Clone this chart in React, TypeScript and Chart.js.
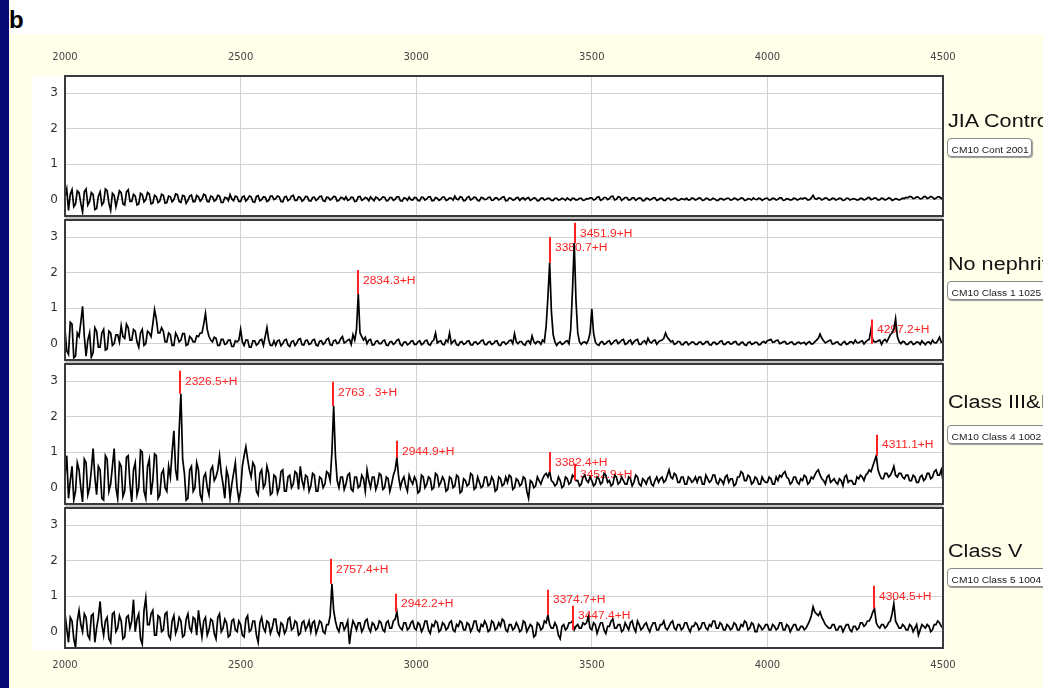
import React, { useEffect, useRef } from "react";
import { Chart, registerables } from "chart.js";
Chart.register(...registerables);

// ---------- data ----------
const MASS_START = 2000; // Da, first sample of every spectrum
const MASS_STEP = 5; // Da between samples
const X_TICKS = [2000, 2500, 3000, 3500, 4000, 4500];
const Y_TICKS = [0, 1, 2, 3];
const Y_MIN = -0.46;
const Y_MAX = 3.48;

const PANEL_NAMES = ["JIA Control", "No nephritis", "Class III&IV", "Class V"];
const PANEL_IDS = ["CM10 Cont 2001", "CM10 Class 1 1025", "CM10 Class 4 1002", "CM10 Class 5 1004"];

const JIA_CONTROL = [
  0.08, 0.3, -0.3, 0.15, 0.28, -0.2, -0.12, 0.25, 0.2, -0.1, -0.35, 0.22, 0.3, -0.15, -0.05, 0.2, 0.15, -0.28, -0.25, 0.1,
  0.22, -0.15, -0.08, 0.3, 0.25, -0.1, -0.3, 0.18, 0.12, -0.2, 0.02, 0.25, 0.2, -0.12, -0.15, 0.22, 0.28, -0.05, -0.05, 0.15,
  0.1, -0.15, -0.12, 0.18, 0.14, -0.06, 0.0, 0.2, 0.16, -0.12, -0.1, 0.12, 0.08, -0.08, -0.04, 0.15, 0.12, -0.1, -0.08, 0.1,
  0.08, -0.06, 0.0, 0.16, 0.14, -0.05, -0.08, 0.12, 0.1, -0.1, -0.02, 0.1, 0.13, -0.06, -0.05, 0.12, 0.08, -0.04, 0.02, 0.15,
  0.12, -0.05, -0.06, 0.1, 0.08, -0.04, 0.0, 0.12, 0.1, -0.08, -0.08, 0.06, 0.05, -0.03, 0.14, 0.02, -0.03, 0.1, 0.08, -0.05,
  -0.05, 0.08, 0.1, -0.04, 0.02, 0.1, 0.08, -0.06, -0.07, 0.09, 0.11, -0.03, 0.0, 0.08, 0.07, -0.05, -0.02, 0.1, 0.1, 0.0,
  0.03, 0.1, 0.08, -0.05, -0.06, 0.07, 0.09, -0.03, 0.01, 0.1, 0.12, -0.02, -0.02, 0.08, 0.06, -0.04, 0.0, 0.09, 0.08, -0.03,
  -0.04, 0.06, 0.07, -0.02, 0.02, 0.09, 0.1, -0.03, -0.05, 0.07, 0.06, -0.01, 0.03, 0.09, 0.08, -0.04, -0.02, 0.06, 0.05, 0.0,
  0.08, -0.02, 0.0, 0.07, 0.06, -0.05, -0.04, 0.08, 0.09, -0.02, 0.01, 0.06, 0.04, -0.03, 0.08, 0.02, -0.03, 0.07, 0.05, -0.02,
  0.02, 0.08, 0.07, -0.03, -0.02, 0.06, 0.06, -0.02, 0.01, 0.08, 0.08, -0.03, -0.04, 0.05, 0.04, -0.02, 0.07, 0.0, -0.01, 0.06,
  0.05, -0.02, -0.03, 0.07, 0.06, -0.01, 0.02, 0.08, 0.08, -0.03, -0.02, 0.06, 0.04, -0.02, 0.01, 0.07, 0.07, -0.02, 0.0, 0.05,
  0.04, -0.01, 0.1, 0.02, 0.0, 0.08, 0.07, -0.03, -0.02, 0.06, 0.09, -0.01, 0.02, 0.07, 0.06, -0.02, -0.03, 0.06, 0.05, 0.0,
  0.01, 0.06, 0.07, -0.02, -0.01, 0.05, 0.05, -0.01, 0.02, 0.07, 0.08, -0.03, -0.02, 0.05, 0.04, -0.01, 0.0, 0.05, 0.06, -0.02,
  0.03, 0.05, -0.01, 0.04, 0.06, -0.02, 0.01, 0.05, 0.04, -0.03, -0.02, 0.04, 0.05, -0.01, 0.01, 0.04, 0.03, -0.02, -0.02, 0.04,
  0.04, -0.01, 0.0, 0.04, 0.02, -0.02, 0.05, 0.01, -0.02, 0.04, 0.03, -0.01, 0.0, 0.04, 0.04, -0.02, -0.01, 0.03, 0.02, 0.05,
  0.05, -0.01, 0.01, 0.07, 0.08, -0.02, 0.0, 0.06, 0.06, 0.0, 0.03, 0.09, 0.1, -0.01, 0.01, 0.08, 0.07, -0.02, 0.02, 0.06,
  0.06, -0.01, 0.0, 0.05, 0.05, -0.02, 0.02, 0.05, 0.04, -0.03, -0.02, 0.04, 0.03, -0.01, 0.01, 0.05, 0.05, -0.02, 0.0, 0.04,
  0.03, -0.02, -0.02, 0.04, 0.04, -0.01, 0.01, 0.04, 0.03, -0.02, -0.01, 0.03, 0.02, 0.0, 0.04, -0.01, 0.0, 0.05, 0.03, -0.01,
  0.01, 0.05, 0.04, -0.02, -0.01, 0.04, 0.03, -0.01, 0.0, 0.04, 0.02, -0.02, -0.02, 0.03, 0.03, -0.01, 0.01, 0.04, 0.04, -0.01,
  0.0, 0.04, 0.03, -0.01, 0.01, 0.05, 0.04, -0.02, -0.01, 0.03, 0.02, -0.01, 0.05, 0.01, 0.0, 0.04, 0.03, -0.02, 0.01, 0.04,
  0.04, -0.01, 0.0, 0.04, 0.03, -0.01, 0.01, 0.05, 0.05, -0.02, -0.01, 0.03, 0.02, -0.01, 0.0, 0.04, 0.03, -0.01, 0.01, 0.04,
  0.02, 0.05, 0.04, -0.01, 0.0, 0.05, 0.12, 0.03, 0.01, 0.05, 0.04, -0.01, 0.02, 0.05, 0.04, -0.01, 0.0, 0.04, 0.03, -0.01,
  0.01, 0.04, 0.03, -0.02, -0.01, 0.04, 0.04, -0.01, 0.01, 0.03, 0.02, -0.01, 0.0, 0.04, 0.03, -0.01, 0.01, 0.05, 0.06, 0.0,
  0.02, 0.05, 0.04, -0.01, 0.0, 0.04, 0.03, -0.01, 0.01, 0.05, 0.04, -0.02, 0.0, 0.03, 0.02, -0.01, 0.01, 0.04, 0.03, 0.06,
  0.05, 0.09, 0.08, 0.03, 0.04, 0.08, 0.07, 0.02, 0.03, 0.08, 0.09, 0.03, 0.05, 0.09, 0.07, 0.02, 0.04, 0.08, 0.08, 0.03,
  0.06,
];

const NO_NEPHRITIS = [
  0.4, -0.2, -0.3, 0.6, 0.55, -0.4, -0.35, 0.3, 0.2, 0.6, 1.05, 0.2, -0.35, 0.1, 0.3, -0.38, -0.25, 0.45, 0.35, -0.1,
  -0.1, 0.3, 0.4, -0.18, -0.15, 0.35, 0.3, -0.05, 0.0, 0.25, 0.25, 0.05, 0.5, 0.2, 0.15, 0.55, 0.45, 0.1, 0.1, 0.4,
  0.35, 0.05, -0.1, 0.3, 0.4, -0.05, 0.0, 0.35, 0.3, 0.2, 0.55, 0.96, 0.7, 0.3, 0.3, 0.45, 0.35, 0.05, 0.05, 0.3,
  0.25, -0.05, -0.05, 0.3, 0.2, 0.05, 0.1, 0.28, 0.28, -0.05, -0.02, 0.2, 0.15, 0.05, 0.05, 0.22, 0.2, 0.3, 0.3, 0.55,
  0.85, 0.4, 0.2, 0.1, 0.05, 0.18, 0.15, -0.05, -0.05, 0.12, 0.12, -0.02, 0.0, 0.1, 0.1, -0.08, -0.08, 0.08, 0.05, 0.1,
  0.4, 0.05, -0.05, 0.1, 0.1, -0.1, -0.1, 0.08, 0.08, -0.04, 0.0, 0.1, 0.12, -0.05, 0.2, 0.45, 0.1, -0.05, -0.05, 0.08,
  -0.05, 0.08, 0.1, -0.06, 0.0, 0.1, 0.12, -0.04, -0.08, 0.06, 0.08, -0.05, 0.02, 0.12, 0.14, -0.03, -0.04, 0.09, 0.1, -0.02,
  0.0, 0.1, 0.12, -0.04, -0.06, 0.07, 0.08, -0.02, 0.02, 0.12, 0.15, -0.03, -0.05, 0.08, 0.1, 0.0, 0.03, 0.14, 0.2, 0.02,
  0.05, 0.1, 0.12, -0.02, 0.25, 0.1, 0.4, 1.4, 0.3, 0.2, 0.1, 0.18, 0.0, 0.1, 0.12, -0.04, -0.03, 0.06, 0.08, 0.0,
  0.0, 0.08, 0.1, -0.04, -0.05, 0.05, 0.06, -0.02, 0.02, 0.1, 0.12, -0.02, -0.06, 0.04, 0.05, -0.03, 0.0, 0.07, 0.08, -0.02,
  -0.02, 0.05, 0.08, -0.03, 0.0, 0.08, 0.1, -0.02, -0.04, 0.06, 0.1, 0.3, 0.02, 0.06, 0.08, -0.02, -0.03, 0.1, 0.05, 0.3,
  0.0, 0.06, 0.1, -0.03, -0.05, 0.04, 0.06, -0.02, 0.0, 0.07, 0.08, -0.03, -0.04, 0.04, 0.05, -0.02, 0.02, 0.08, 0.1, -0.02,
  -0.03, 0.04, 0.06, -0.02, 0.0, 0.07, 0.08, -0.04, -0.05, 0.04, 0.05, -0.02, 0.02, 0.08, 0.1, 0.0, 0.28, 0.05, 0.0, 0.06,
  0.06, -0.02, -0.04, 0.06, 0.08, 0.0, 0.22, 0.05, 0.0, 0.06, 0.05, -0.02, 0.1, 0.05, 0.5, 1.3, 2.28, 0.9, 0.25, 0.05,
  -0.05, 0.02, 0.05, -0.02, 0.0, 0.06, 0.08, 0.0, 0.4, 1.5, 2.83, 1.2, 0.3, 0.05, -0.02, 0.04, 0.05, 0.0, 0.1, 0.3,
  0.98, 0.3, 0.05, -0.02, -0.05, 0.04, 0.06, -0.02, 0.0, 0.06, 0.08, -0.02, 0.02, 0.08, 0.1, 0.0, 0.04, 0.1, 0.12, -0.02,
  0.0, 0.07, 0.1, -0.02, 0.05, 0.1, 0.12, -0.02, -0.02, 0.05, 0.08, 0.0, 0.15, 0.05, 0.02, 0.08, 0.1, -0.02, 0.05, 0.08,
  0.1, 0.15, 0.3, 0.18, 0.12, 0.05, 0.08, -0.02, 0.0, 0.06, 0.06, -0.02, -0.03, 0.04, 0.05, -0.03, 0.0, 0.05, 0.04, -0.02,
  -0.02, 0.04, 0.05, -0.02, 0.0, 0.05, 0.06, -0.03, -0.04, 0.03, 0.04, -0.02, 0.0, 0.06, 0.08, -0.02, -0.02, 0.04, 0.05, -0.01,
  0.0, 0.05, 0.06, -0.02, -0.03, 0.03, 0.04, -0.03, -0.05, 0.03, 0.05, -0.02, 0.0, 0.04, 0.04, -0.03, -0.02, 0.04, 0.06, 0.02,
  0.08, 0.1, 0.12, 0.04, 0.05, 0.09, 0.1, 0.0, 0.02, 0.05, 0.06, -0.01, 0.0, 0.04, 0.05, -0.02, -0.02, 0.03, 0.04, 0.0,
  0.02, 0.04, -0.03, 0.03, 0.06, -0.01, 0.0, 0.05, 0.1, 0.15, 0.27, 0.15, 0.08, 0.02, 0.05, 0.08, 0.1, -0.01, 0.0, 0.04,
  0.05, -0.02, -0.04, 0.03, 0.06, -0.02, 0.0, 0.05, 0.05, 0.0, 0.1, 0.03, 0.02, 0.06, 0.08, -0.01, 0.05, 0.1, 0.12, 0.4,
  0.1, 0.05, 0.05, 0.08, 0.1, -0.02, 0.08, 0.12, 0.05, 0.15, 0.25, 0.3, 0.4, 0.7, 0.2, 0.05, 0.0, 0.06, 0.05, -0.02,
  -0.02, 0.04, 0.06, -0.02, 0.0, 0.05, 0.04, -0.02, 0.08, 0.02, -0.03, 0.04, 0.05, -0.01, 0.1, 0.03, 0.02, 0.08, 0.18, 0.04,
  0.05,
];

const CLASS_III_IV = [
  0.3, 0.9, -0.3, 0.2, 0.6, -0.35, -0.1, 0.7, 0.5, 0.0, -0.4, 0.8, 0.7, -0.2, 0.0, 0.5, 1.1, 0.3, -0.2, 0.6,
  0.5, -0.3, -0.35, 0.9, 0.8, -0.1, 0.1, 0.6, 1.1, 0.0, -0.3, 0.7, 0.6, -0.25, -0.1, 0.85, 0.9, 0.1, -0.4, 0.5,
  0.7, -0.2, 0.0, 1.05, 1.0, -0.1, -0.3, 0.6, 0.8, -0.2, 0.2, 0.95, 0.9, -0.3, -0.2, 0.4, 0.5, 0.0, -0.1, 0.6,
  0.3, 1.0, 1.6, 0.5, 0.2, 1.6, 2.64, 0.8, 0.4, -0.35, -0.3, 0.5, 0.6, -0.1, 0.0, 0.7, 0.5, -0.2, -0.35, 0.3,
  0.4, 0.0, -0.2, 0.5, 0.6, 0.2, 0.3, 0.5, 0.9, 0.4, 0.1, -0.3, 0.5, 0.3, -0.3, 0.1, 0.4, 0.7, 0.0, -0.35,
  -0.1, 0.6, 0.9, 1.15, 0.8, 0.5, 0.3, 0.7, 0.6, -0.1, -0.2, 0.4, 0.5, 0.0, 0.1, 0.6, 0.4, -0.2, -0.15, 0.35,
  0.3, -0.15, 0.0, 0.45, 0.5, -0.1, -0.1, 0.3, 0.35, 0.0, 0.1, 0.45, 0.4, -0.05, 0.6, 0.2, 0.0, 0.35, 0.3, -0.1,
  0.05, 0.4, 0.35, -0.1, -0.1, 0.3, 0.25, 0.0, 0.1, 0.45, 0.4, 0.2, 1.0, 2.3, 0.9, 0.2, 0.0, 0.3, 0.3, -0.05,
  0.1, 0.35, 0.4, -0.05, -0.1, 0.3, 0.3, 0.0, 0.05, 0.35, 0.25, -0.1, 0.5, 0.2, 0.0, 0.3, 0.3, -0.05, 0.1, 0.4,
  0.35, -0.05, 0.0, 0.3, 0.25, -0.1, 0.1, 0.35, 0.5, 0.84, 0.3, 0.0, 0.2, 0.3, 0.05, -0.1, 0.35, 0.2, 0.1, 0.3,
  0.2, -0.15, -0.1, 0.35, 0.3, 0.0, 0.1, 0.3, 0.25, -0.05, 0.0, 0.4, 0.35, 0.05, 0.15, 0.3, 0.2, -0.1, -0.05, 0.3,
  0.25, 0.0, 0.05, 0.35, 0.3, -0.15, -0.1, 0.25, 0.2, 0.05, 0.1, 0.4, 0.35, -0.05, 0.0, 0.3, 0.15, 0.0, 0.05, 0.3,
  0.3, 0.05, 0.1, 0.3, 0.2, -0.1, -0.05, 0.3, 0.25, 0.05, 0.1, 0.3, 0.15, 0.35, 0.3, -0.05, 0.0, 0.25, 0.2, 0.05,
  0.1, 0.3, 0.25, -0.1, -0.3, 0.2, 0.15, 0.0, 0.05, 0.3, 0.2, 0.1, 0.25, 0.35, 0.4, 0.3, 0.45, 0.2, 0.15, 0.05,
  0.1, 0.3, 0.2, 0.0, 0.05, 0.3, 0.25, 0.1, 0.15, 0.35, 0.3, 0.2, 0.2, 0.05, 0.1, 0.3, 0.35, 0.2, 0.15, 0.3,
  0.2, 0.05, 0.1, 0.3, 0.25, 0.1, 0.15, 0.4, 0.35, 0.15, 0.2, 0.05, 0.1, 0.35, 0.3, 0.1, 0.15, 0.3, 0.2, 0.1,
  0.1, 0.3, 0.25, 0.05, 0.15, 0.35, 0.3, 0.1, 0.05, 0.25, 0.2, 0.1, 0.25, 0.3, 0.1, 0.05, 0.2, 0.3, 0.15, 0.25,
  0.3, 0.15, 0.2, 0.35, 0.5, 0.3, 0.25, 0.4, 0.35, 0.15, 0.15, 0.3, 0.3, 0.1, 0.1, 0.3, 0.25, 0.15, 0.2, 0.3,
  0.15, 0.3, 0.3, 0.1, 0.1, 0.35, 0.25, 0.15, 0.2, 0.35, 0.35, 0.15, 0.1, 0.25, 0.2, 0.1, 0.3, 0.35, 0.15, 0.25,
  0.25, 0.05, 0.1, 0.3, 0.3, 0.45, 0.4, 0.2, 0.2, 0.35, 0.3, 0.1, 0.15, 0.3, 0.25, 0.1, 0.1, 0.3, 0.2, 0.15,
  0.15, 0.3, 0.25, 0.1, 0.1, 0.3, 0.2, 0.35, 0.3, 0.4, 0.45, 0.3, 0.25, 0.1, 0.15, 0.3, 0.3, 0.15, 0.1, 0.25,
  0.2, 0.35, 0.3, 0.1, 0.15, 0.3, 0.25, 0.35, 0.45, 0.5, 0.35, 0.25, 0.2, 0.1, 0.3, 0.35, 0.15, 0.2, 0.25, 0.15,
  0.1, 0.25, 0.2, 0.05, 0.3, 0.35, 0.15, 0.2, 0.2, 0.1, 0.1, 0.3, 0.25, 0.35, 0.3, 0.2, 0.35, 0.4, 0.5, 0.45,
  0.6, 0.75, 0.9, 0.5, 0.35, 0.25, 0.25, 0.4, 0.4, 0.3, 0.35, 0.45, 0.6, 0.35, 0.3, 0.4, 0.4, 0.3, 0.25, 0.35,
  0.35, 0.2, 0.2, 0.35, 0.3, 0.15, 0.15, 0.3, 0.35, 0.2, 0.25, 0.4, 0.4, 0.25, 0.3, 0.45, 0.5, 0.35, 0.35, 0.5,
  0.2,
];

const CLASS_V = [
  0.5, 0.1, -0.3, 0.4, 0.3, -0.2, -0.45, 0.3, 0.6, 0.2, 0.0, 0.5, 0.4, -0.1, -0.2, 0.45, 0.5, -0.3, 0.1, 0.4,
  0.85, 0.2, -0.1, 0.3, 0.4, -0.2, -0.3, 0.5, 0.55, 0.0, 0.1, 0.45, 0.3, -0.2, -0.15, 0.4, 0.45, 0.1, 0.3, 0.9,
  0.0, 0.35, 0.5, -0.2, -0.35, 0.6, 0.95, 0.2, 0.2, 0.5, 0.6, -0.1, -0.1, 0.45, 0.4, 0.0, 0.05, 0.5, 0.55, -0.1,
  -0.2, 0.3, 0.45, -0.05, 0.1, 0.4, 0.3, -0.15, -0.1, 0.35, 0.5, 0.1, 0.0, 0.4, 0.35, -0.1, 0.6, 0.2, -0.15, 0.3,
  0.4, -0.1, 0.05, 0.35, 0.3, -0.05, -0.2, 0.4, 0.5, 0.0, 0.1, 0.35, 0.25, -0.15, -0.1, 0.3, 0.35, 0.05, 0.0, 0.3,
  0.2, -0.1, -0.15, 0.35, 0.45, 0.0, 0.05, 0.3, 0.3, -0.1, -0.3, 0.25, 0.4, 0.1, 0.0, 0.3, 0.25, -0.05, 0.1, 0.35,
  0.35, 0.0, -0.1, 0.25, 0.2, -0.05, 0.05, 0.35, 0.4, 0.05, 0.1, 0.3, 0.25, -0.1, -0.05, 0.25, 0.3, 0.05, 0.15, 0.3,
  0.0, 0.25, 0.3, -0.05, 0.1, 0.3, 0.25, 0.0, -0.05, 0.2, 0.2, 0.45, 1.35, 0.6, 0.3, 0.1, 0.0, 0.25, 0.25, 0.05,
  0.15, 0.3, -0.35, 0.05, 0.3, 0.2, 0.05, 0.25, 0.25, 0.0, 0.1, 0.3, 0.35, 0.1, 0.0, 0.25, 0.2, 0.05, 0.1, 0.3,
  0.25, 0.05, 0.0, 0.25, 0.3, 0.1, 0.1, 0.3, 0.35, 0.56, 0.2, 0.1, 0.05, 0.25, 0.25, 0.05, 0.1, 0.25, 0.3, 0.1,
  0.05, 0.25, 0.2, 0.0, 0.1, 0.3, 0.3, 0.05, -0.05, 0.2, 0.15, 0.3, 0.25, 0.0, 0.05, 0.25, 0.2, 0.05, 0.1, 0.25,
  0.3, 0.05, 0.0, 0.2, 0.15, 0.3, 0.25, 0.05, 0.05, 0.25, 0.2, 0.0, 0.1, 0.3, 0.3, 0.05, 0.0, 0.2, 0.15, 0.3,
  0.2, 0.0, 0.05, 0.3, 0.25, 0.05, 0.1, 0.25, 0.15, 0.35, 0.3, 0.05, 0.0, 0.2, 0.2, 0.05, 0.1, 0.25, 0.15, 0.0,
  0.05, 0.3, 0.25, 0.0, 0.1, 0.2, 0.15, -0.15, -0.1, 0.25, 0.2, 0.05, 0.1, 0.3, 0.25, 0.47, 0.2, 0.1, 0.1, 0.25,
  0.15, -0.1, -0.2, 0.15, 0.2, 0.05, 0.1, 0.25, 0.25, 0.3, 0.05, 0.15, 0.2, 0.1, 0.1, 0.25, 0.2, 0.25, 0.42, 0.1,
  0.05, 0.25, 0.2, -0.05, 0.1, 0.25, 0.25, 0.05, -0.05, 0.15, 0.15, 0.3, 0.35, 0.1, 0.1, 0.2, 0.2, 0.0, 0.05, 0.25,
  0.15, 0.05, 0.25, 0.3, 0.1, 0.0, 0.3, 0.2, 0.05, 0.1, 0.2, 0.25, 0.1, 0.0, 0.15, 0.25, 0.25, 0.05, 0.05, 0.2,
  0.2, 0.3, 0.1, 0.05, 0.15, 0.25, 0.3, 0.1, 0.05, 0.2, 0.2, 0.05, 0.1, 0.25, 0.25, 0.1, 0.0, 0.15, 0.15, 0.25,
  0.2, 0.05, 0.1, 0.25, 0.25, 0.1, 0.05, 0.2, 0.15, 0.3, 0.3, 0.1, 0.1, 0.25, 0.2, 0.05, 0.05, 0.2, 0.15, 0.05,
  0.1, 0.25, 0.2, 0.05, 0.05, 0.2, 0.15, 0.3, 0.25, 0.05, 0.1, 0.25, 0.2, 0.0, 0.0, 0.2, 0.15, 0.05, 0.1, 0.2,
  0.2, 0.05, 0.05, 0.2, 0.15, 0.05, 0.1, 0.25, 0.25, 0.05, 0.05, 0.2, 0.15, 0.0, 0.1, 0.2, 0.2, 0.05, 0.05, 0.15,
  0.15, 0.05, 0.1, 0.2, 0.3, 0.45, 0.7, 0.55, 0.5, 0.45, 0.55, 0.4, 0.3, 0.2, 0.15, 0.1, 0.1, 0.2, 0.2, 0.05,
  0.05, 0.15, 0.15, 0.0, 0.1, 0.2, 0.2, 0.05, 0.0, 0.15, 0.15, 0.05, 0.1, 0.25, 0.25, 0.15, 0.2, 0.3, 0.3, 0.4,
  0.55, 0.65, 0.25, 0.15, 0.1, 0.2, 0.2, 0.1, 0.15, 0.25, 0.3, 0.5, 0.79, 0.3, 0.2, 0.1, 0.1, 0.2, 0.15, 0.05,
  0.05, 0.2, 0.15, 0.0, 0.1, 0.2, -0.1, 0.05, 0.2, 0.15, 0.1, 0.2, 0.15, 0.0, 0.05, 0.2, 0.2, 0.3, 0.25, 0.15,
  0.1,
];

// labelled peaks: mass, marker bottom, marker top, label
const P1_PEAK_MASS: number[] = [];
const P1_PEAK_LOW: number[] = [];
const P1_PEAK_HIGH: number[] = [];
const P1_PEAK_LABEL: string[] = [];

const P2_PEAK_MASS = [2834.3, 3380.7, 3451.9, 4297.2];
const P2_PEAK_LOW = [1.4, 2.28, 2.83, 0.0];
const P2_PEAK_HIGH = [2.07, 3.0, 3.4, 0.68];
const P2_PEAK_LABEL = ["2834.3+H", "3380.7+H", "3451.9+H", "4297.2+H"];

const P3_PEAK_MASS = [2326.5, 2763.3, 2944.9, 3382.4, 3452.9, 4311.1];
const P3_PEAK_LOW = [2.64, 2.3, 0.84, 0.45, 0.2, 0.9];
const P3_PEAK_HIGH = [3.29, 2.98, 1.32, 1.0, 0.67, 1.49];
const P3_PEAK_LABEL = ["2326.5+H", "2763 . 3+H", "2944.9+H", "3382.4+H", "3452.9+H", "4311.1+H"];

const P4_PEAK_MASS = [2757.4, 2942.2, 3374.7, 3447.4, 4304.5];
const P4_PEAK_LOW = [1.35, 0.56, 0.47, 0.05, 0.65];
const P4_PEAK_HIGH = [2.05, 1.07, 1.18, 0.73, 1.29];
const P4_PEAK_LABEL = ["2757.4+H", "2942.2+H", "3374.7+H", "3447.4+H", "4304.5+H"];

const SPECTRA = [JIA_CONTROL, NO_NEPHRITIS, CLASS_III_IV, CLASS_V];
const PEAKS = [
  { mass: P1_PEAK_MASS, low: P1_PEAK_LOW, high: P1_PEAK_HIGH, label: P1_PEAK_LABEL },
  { mass: P2_PEAK_MASS, low: P2_PEAK_LOW, high: P2_PEAK_HIGH, label: P2_PEAK_LABEL },
  { mass: P3_PEAK_MASS, low: P3_PEAK_LOW, high: P3_PEAK_HIGH, label: P3_PEAK_LABEL },
  { mass: P4_PEAK_MASS, low: P4_PEAK_LOW, high: P4_PEAK_HIGH, label: P4_PEAK_LABEL },
];

// ---------- layout ----------
const CANVAS_LEFT = 10;
const CANVAS_W = 960;
const PAD_RIGHT = 27; // chart area right edge at x = 943
const PLOT_H = 140;
const PANEL_TOPS = [76, 220, 364, 508];
const NAME_BASELINES = [127, 270, 408, 557];
const BOX_TOPS = [138, 281, 425, 568];
const RED = "#ff2222";
const SANS = '"Liberation Sans", Arial, sans-serif';

function panelGeometry(i: number) {
  if (i === 0) return { canvasTop: 35, axisPos: "top", axisH: 41, padTop: 0, padBottom: 2, tickPad: 13, showTicks: true };
  if (i === 3) return { canvasTop: PANEL_TOPS[3] - 2, axisPos: "bottom", axisH: 30, padTop: 2, padBottom: 0, tickPad: 11, showTicks: true };
  return { canvasTop: PANEL_TOPS[i] - 2, axisPos: "bottom", axisH: 0, padTop: 2, padBottom: 2, tickPad: 0, showTicks: false };
}

function makePeakPlugin(peaks: { mass: number[]; low: number[]; high: number[]; label: string[] }) {
  return {
    id: "peaksAndFrame",
    beforeDatasetsDraw(chart: any) {
      const { ctx, scales } = chart;
      const x = scales.x, y = scales.y;
      ctx.save();
      peaks.mass.forEach((m, k) => {
        const px = Math.round(x.getPixelForValue(m));
        const yt = y.getPixelForValue(peaks.high[k]);
        ctx.save();
        ctx.translate(px + 5, yt + 11);
        ctx.scale(1.2, 1);
        ctx.fillStyle = RED;
        ctx.font = `10px ${SANS}`;
        ctx.textBaseline = "middle";
        ctx.textAlign = "left";
        ctx.fillText(peaks.label[k], 0, 0);
        ctx.restore();
      });
      ctx.restore();
    },
    afterDatasetsDraw(chart: any) {
      const { ctx, scales, chartArea: a } = chart;
      const x = scales.x, y = scales.y;
      ctx.save();
      ctx.strokeStyle = RED;
      ctx.lineWidth = 2;
      peaks.mass.forEach((m, k) => {
        const px = Math.round(x.getPixelForValue(m));
        ctx.beginPath();
        ctx.moveTo(px, y.getPixelForValue(peaks.low[k]));
        ctx.lineTo(px, y.getPixelForValue(peaks.high[k]));
        ctx.stroke();
      });
      ctx.strokeStyle = "#3a3a3a";
      ctx.lineWidth = 2;
      ctx.strokeRect(a.left, a.top, a.right - a.left, a.bottom - a.top);
      ctx.restore();
    },
  };
}

export default function App() {
  const refs = [useRef<HTMLCanvasElement>(null), useRef<HTMLCanvasElement>(null), useRef<HTMLCanvasElement>(null), useRef<HTMLCanvasElement>(null)];

  useEffect(() => {
    const charts: Chart[] = [];
    SPECTRA.forEach((values, i) => {
      const canvas = refs[i].current;
      if (!canvas) return;
      const g = panelGeometry(i);
      const chart = new Chart(canvas, {
        type: "line",
        data: {
          datasets: [
            {
              data: values.map((v, k) => ({ x: MASS_START + k * MASS_STEP, y: v })),
              borderColor: "#000",
              borderWidth: 1.7,
              pointRadius: 0,
              tension: 0,
              fill: false,
            },
          ],
        },
        options: {
          animation: false,
          responsive: false,
          devicePixelRatio: 1,
          events: [],
          layout: { autoPadding: false, padding: { top: g.padTop, bottom: g.padBottom, left: 0, right: PAD_RIGHT } },
          plugins: { legend: { display: false }, tooltip: { enabled: false } },
          scales: {
            x: {
              type: "linear",
              position: g.axisPos as any,
              min: 2000,
              max: 4500,
              afterBuildTicks: (s: any) => {
                s.ticks = X_TICKS.map((v) => ({ value: v }));
              },
              afterFit: (s: any) => {
                s.height = g.axisH;
                s.paddingLeft = 0;
                s.paddingRight = 0;
                s.paddingTop = 0;
                s.paddingBottom = 0;
              },
              ticks: {
                display: g.showTicks,
                padding: g.tickPad,
                maxRotation: 0,
                autoSkip: false,
                color: "#444",
                font: { family: "DejaVu Sans", size: 10 },
                callback: (v: any) => String(v),
              },
              grid: { color: "#d2d2d2", lineWidth: 1, drawTicks: false },
              border: { display: false },
            },
            y: {
              min: Y_MIN,
              max: Y_MAX,
              afterBuildTicks: (s: any) => {
                s.ticks = Y_TICKS.map((v) => ({ value: v }));
              },
              afterFit: (s: any) => {
                s.width = 55;
                s.paddingLeft = 0;
                s.paddingRight = 0;
                s.paddingTop = 0;
                s.paddingBottom = 0;
              },
              ticks: {
                padding: 7,
                color: "#333",
                font: { family: "DejaVu Sans", size: 12 },
                callback: (v: any) => String(v),
              },
              grid: { color: "#d2d2d2", lineWidth: 1, drawTicks: false },
              border: { display: false },
            },
          },
        },
        plugins: [makePeakPlugin(PEAKS[i]) as any],
      });
      charts.push(chart);
    });
    return () => charts.forEach((c) => c.destroy());
  }, []);

  return (
    <div
      style={{
        position: "fixed",
        left: 0,
        top: 0,
        width: 1043,
        height: 688,
        overflow: "hidden",
        background: "#ffffea",
        fontFamily: SANS,
      }}
    >
      <div style={{ position: "absolute", left: 0, top: 0, width: 9, height: 688, background: "#0a0a74" }} />
      <div style={{ position: "absolute", left: 9, top: 0, width: 1034, height: 34, background: "#ffffff" }} />
      <div
        style={{
          position: "absolute",
          left: 9,
          top: 8,
          fontSize: 24,
          lineHeight: "24px",
          fontWeight: "bold",
          color: "#000",
        }}
      >
        b
      </div>
      <div style={{ position: "absolute", left: 32, top: 76, width: 913, height: 574, background: "#ffffff" }} />
      {[217, 361, 505].map((t) => (
        <div key={t} style={{ position: "absolute", left: 65, top: t, width: 878, height: 2, background: "#c4c4c4" }} />
      ))}
      {SPECTRA.map((_, i) => {
        const g = panelGeometry(i);
        const h = g.padTop + g.axisH + PLOT_H + g.padBottom;
        return (
          <canvas
            key={i}
            ref={refs[i]}
            width={CANVAS_W}
            height={h}
            style={{ position: "absolute", left: CANVAS_LEFT, top: g.canvasTop, width: CANVAS_W, height: h }}
          />
        );
      })}
      {PANEL_NAMES.map((name, i) => (
        <div
          key={name}
          style={{
            position: "absolute",
            left: 948,
            top: NAME_BASELINES[i] - 15,
            fontSize: 18,
            lineHeight: "18px",
            color: "#111",
            whiteSpace: "nowrap",
            transform: "scaleX(1.2)",
            transformOrigin: "left top",
          }}
        >
          {name}
        </div>
      ))}
      {PANEL_IDS.map((id, i) => (
        <div
          key={id}
          style={{
            position: "absolute",
            left: 947,
            top: BOX_TOPS[i],
            width: i === 0 ? 85 : 110,
            height: 19,
            boxSizing: "border-box",
            border: "1px solid #8a8a8a",
            borderRadius: 4,
            background: "#fff",
            boxShadow: "1px 1px 1px #9a9a9a",
            whiteSpace: "nowrap",
            overflow: "hidden",
          }}
        >
          <span
            style={{
              display: "inline-block",
              fontSize: 8.5,
              lineHeight: "17px",
              color: "#222",
              paddingLeft: 3,
              transform: "scaleX(1.2)",
              transformOrigin: "left center",
            }}
          >
            {id}
          </span>
        </div>
      ))}
    </div>
  );
}
